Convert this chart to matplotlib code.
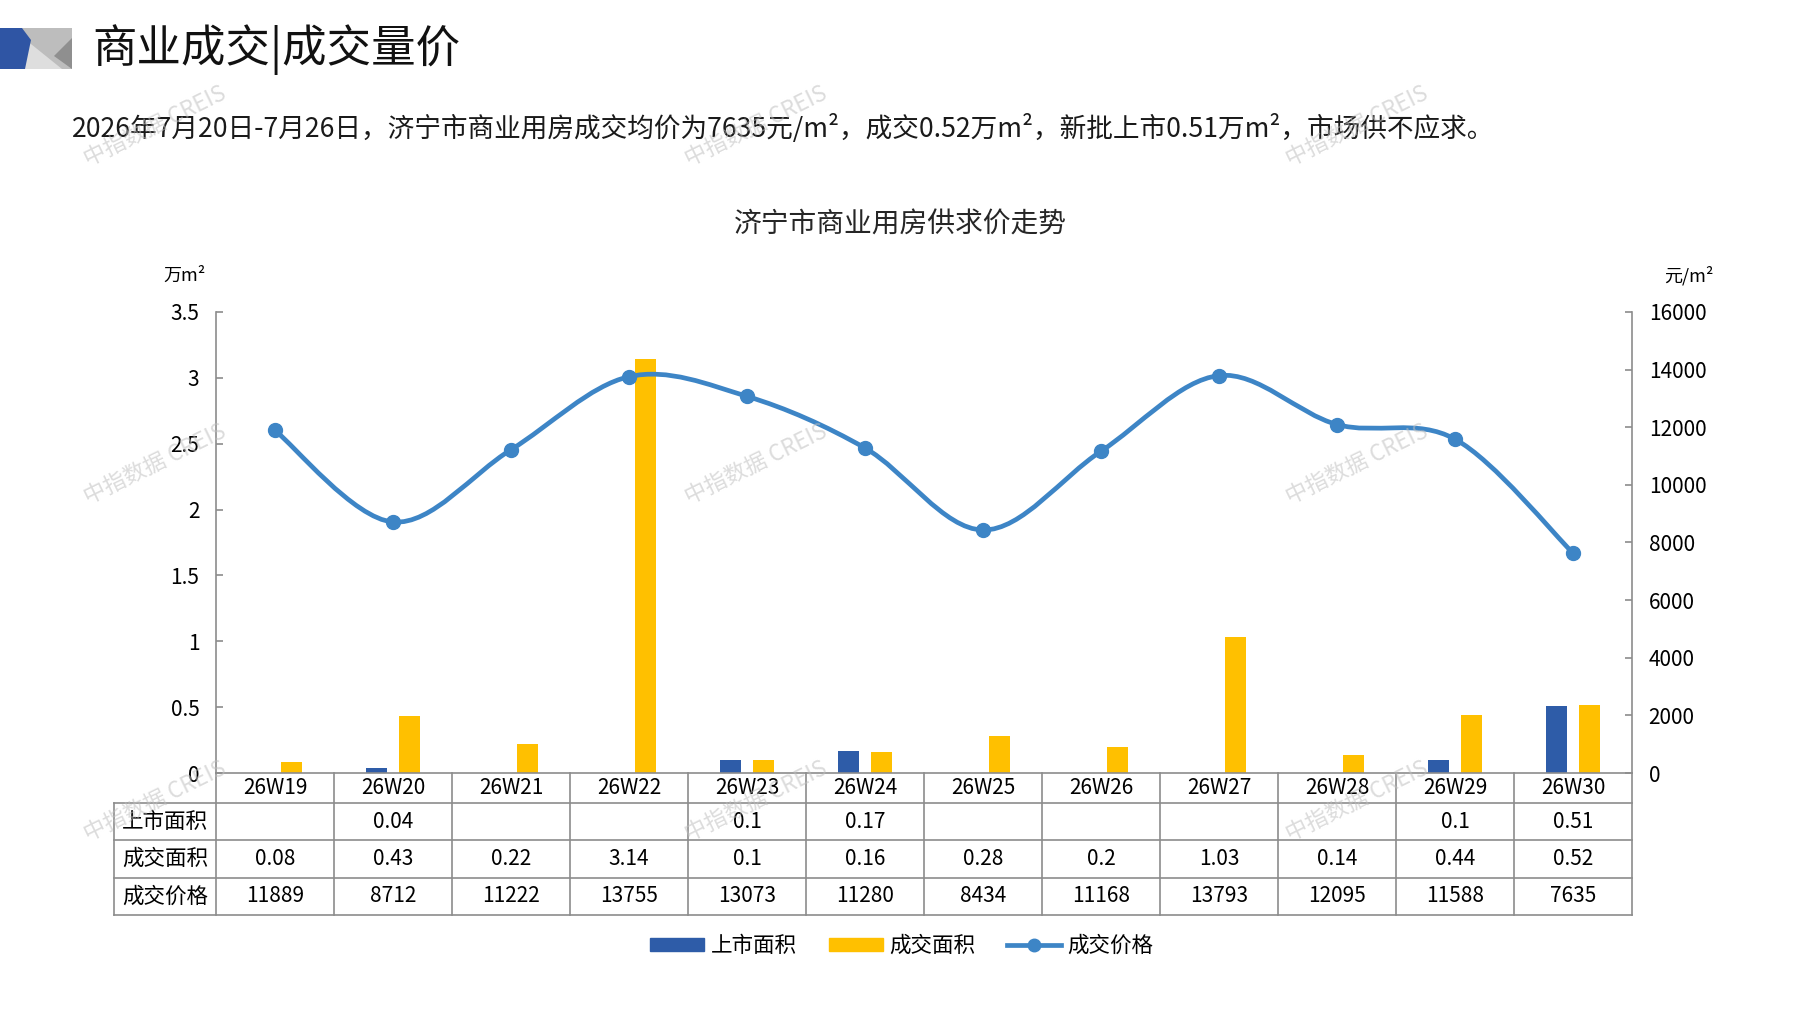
#!/usr/bin/env python3
"""Jining commercial property: supply, deals and price by week."""

import numpy as np
import matplotlib
matplotlib.use("Agg")
import matplotlib.pyplot as plt
from matplotlib.lines import Line2D
from matplotlib.patches import Patch, PathPatch, Polygon
from matplotlib.path import Path
from matplotlib.transforms import blended_transform_factory

plt.rcParams["font.family"] = ["Noto Sans CJK SC", "DejaVu Sans"]

W, H = 1797, 1010

weeks = ["26W19", "26W20", "26W21", "26W22", "26W23", "26W24",
         "26W25", "26W26", "26W27", "26W28", "26W29", "26W30"]
listed_area = [None, 0.04, None, None, 0.1, 0.17, None, None, None, None, 0.1, 0.51]
deal_area = [0.08, 0.43, 0.22, 3.14, 0.1, 0.16, 0.28, 0.2, 1.03, 0.14, 0.44, 0.52]
deal_price = [11889, 8712, 11222, 13755, 13073, 11280, 8434, 11168, 13793, 12095, 11588, 7635]

left_ticks = [0, 0.5, 1, 1.5, 2, 2.5, 3, 3.5]
right_ticks = [0, 2000, 4000, 6000, 8000, 10000, 12000, 14000, 16000]
row_names = ["上市面积", "成交面积", "成交价格"]
series_names = ["上市面积", "成交面积", "成交价格"]

header = "商业成交|成交量价"
summary = ("2026年7月20日-7月26日，济宁市商业用房成交均价为7635元/m²，"
           "成交0.52万m²，新批上市0.51万m²，市场供不应求。")
chart_title = "济宁市商业用房供求价走势"
watermark = "中指数据 CREIS"

BLUE = "#2e5ca8"
YELLOW = "#ffc000"
LINE = "#3d85c6"
GRID = "#8c8c8c"


def fx(px: float) -> float:
    return px / W


def fy(py: float) -> float:
    return 1 - py / H


def smooth_path(xs, ys) -> Path:
    # Excel style smoothed line: cubic bezier through each point
    pts = np.column_stack([xs, ys]).astype(float)
    n = len(pts)
    verts = [pts[0]]
    codes = [Path.MOVETO]
    for i in range(n - 1):
        p0 = pts[max(i - 1, 0)]
        p1 = pts[i]
        p2 = pts[i + 1]
        p3 = pts[min(i + 2, n - 1)]
        verts += [p1 + (p2 - p0) / 6, p2 - (p3 - p1) / 6, p2]
        codes += [Path.CURVE4] * 3
    return Path(verts, codes)


fig = plt.figure(figsize=(W / 100, H / 100), dpi=100)

# header block
fig.patches.append(Polygon([(fx(22), fy(28)), (fx(72), fy(28)), (fx(72), fy(69)), (fx(22), fy(69))],
                           closed=True, transform=fig.transFigure, color="#bdbdbd", lw=0))
fig.patches.append(Polygon([(fx(26), fy(40)), (fx(62), fy(69)), (fx(24), fy(69))],
                           closed=True, transform=fig.transFigure, color="#dedede", lw=0))
fig.patches.append(Polygon([(fx(72), fy(38)), (fx(72), fy(69)), (fx(54), fy(56))],
                           closed=True, transform=fig.transFigure, color="#8f8f8f", lw=0))
fig.patches.append(Polygon([(0, fy(28)), (fx(22), fy(28)), (fx(31), fy(40)), (fx(25), fy(69)), (0, fy(69))],
                           closed=True, transform=fig.transFigure, color="#2f55a4", lw=0))
fig.text(fx(92), fy(50), header, fontsize=32, va="center", ha="left", color="#111111")
fig.text(fx(72), fy(129), summary, fontsize=19.2, va="center", ha="left", color="#1a1a1a")
fig.text(fx(900), fy(225), chart_title, fontsize=20, va="center", ha="center", color="#262626")

ax = fig.add_axes([fx(216), fy(773), fx(1632) - fx(216), fy(312) - fy(773)])
ax2 = ax.twinx()

x = np.arange(len(weeks))
bw = 0.178
off = 0.144
lx = [i for i, v in enumerate(listed_area) if v is not None]
lv = [listed_area[i] for i in lx]
ax.bar(np.array(lx) - off, lv, width=bw, color=BLUE, zorder=2)
ax.bar(x + off, deal_area, width=bw, color=YELLOW, zorder=2)

ax.set_xlim(-0.5, len(weeks) - 0.5)
ax.set_ylim(0, 3.5)
ax.set_yticks(left_ticks, [f"{v:g}" for v in left_ticks])
ax.set_xticks([])
ax2.set_ylim(0, 16000)
ax2.set_yticks(right_ticks, [str(v) for v in right_ticks])

for a in (ax, ax2):
    a.set_facecolor("none")
    a.spines["top"].set_visible(False)
    for s in ("left", "right", "bottom"):
        a.spines[s].set_color(GRID)
        a.spines[s].set_linewidth(1.2)
    a.tick_params(axis="y", direction="in", length=5, width=1.2, color=GRID,
                  labelsize=15, pad=12)
ax.spines["right"].set_visible(False)
ax2.spines["left"].set_visible(False)
ax2.spines["bottom"].set_visible(False)

ax2.add_patch(PathPatch(smooth_path(x, deal_price), fill=False, edgecolor=LINE,
                        lw=3.4, capstyle="round", zorder=3))
ax2.plot(x, deal_price, "o", color=LINE, markersize=10, zorder=4)

fig.text(fx(185), fy(276), "万m²", fontsize=13, ha="center", va="center")
fig.text(fx(1689), fy(276), "元/m²", fontsize=13, ha="center", va="center")

# data table under the plot
tr = blended_transform_factory(ax.transData, fig.transFigure)
rows_px = [773, 803, 840, 878, 915]
label_left = -0.5 - 102 / 118
right_edge = len(weeks) - 0.5
for r in rows_px[1:]:
    ax.plot([label_left, right_edge], [fy(r), fy(r)], color=GRID, lw=1.2,
            transform=tr, clip_on=False)
for i in range(len(weeks) + 1):
    ax.plot([i - 0.5, i - 0.5], [fy(773), fy(915)], color=GRID, lw=1.2,
            transform=tr, clip_on=False)
ax.plot([label_left, label_left], [fy(803), fy(915)], color=GRID, lw=1.2,
        transform=tr, clip_on=False)


def cell_y(k: int) -> float:
    return fy((rows_px[k] + rows_px[k + 1]) / 2)


for i, wk in enumerate(weeks):
    ax.text(i, cell_y(0), wk, ha="center", va="center", fontsize=15, transform=tr)
table_rows = [listed_area, deal_area, deal_price]
for k, (name, vals) in enumerate(zip(row_names, table_rows), start=1):
    ax.text((label_left - 0.5) / 2, cell_y(k), name, ha="center", va="center",
            fontsize=15.5, transform=tr)
    for i, v in enumerate(vals):
        if v is None:
            continue
        ax.text(i, cell_y(k), f"{v:g}", ha="center", va="center", fontsize=15,
                transform=tr)

handles = [Patch(color=BLUE), Patch(color=YELLOW),
           Line2D([], [], color=LINE, lw=3.4, marker="o", markersize=9)]
fig.legend(handles, series_names, loc="center", bbox_to_anchor=(fx(902), fy(946)),
           ncol=3, frameon=False, fontsize=15.5, handlelength=2.5, handleheight=0.55,
           columnspacing=1.5, handletextpad=0.3)

for wx in (155, 756, 1357):
    for wy in (126, 464, 801):
        fig.text(fx(wx), fy(wy), watermark, fontsize=16, rotation=26, color="#bfbfbf",
                 alpha=0.55, ha="center", va="center", zorder=10)

fig.savefig("out.png", dpi=100)
